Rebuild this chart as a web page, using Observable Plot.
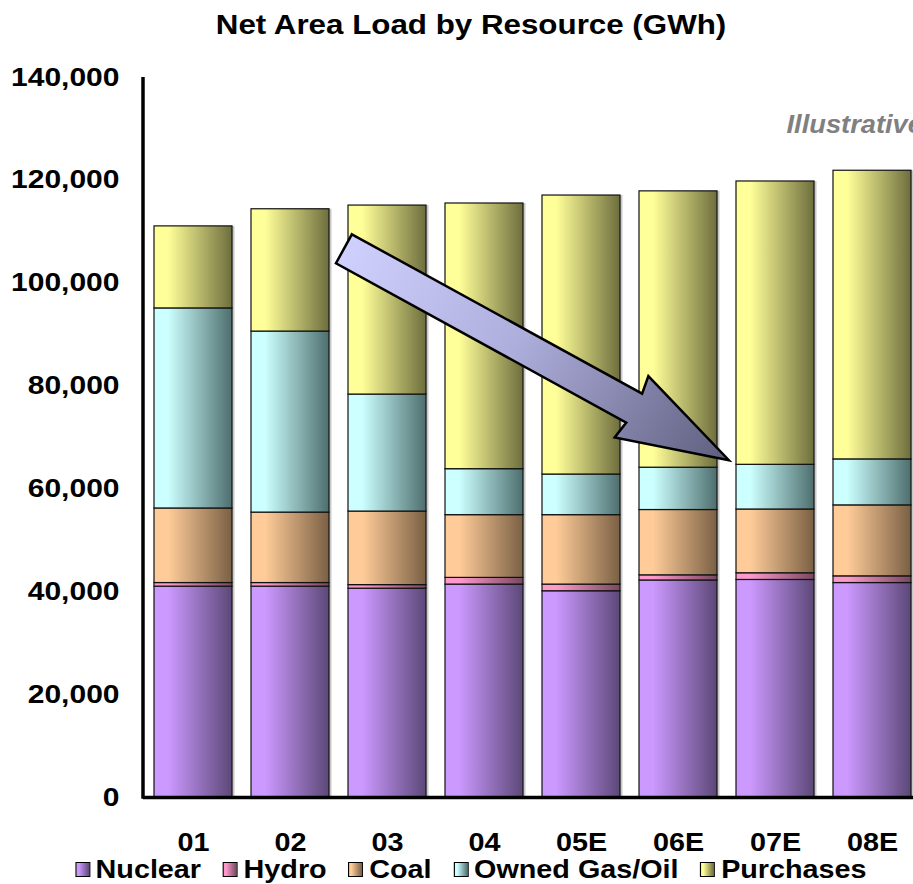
<!DOCTYPE html>
<html>
<head>
<meta charset="utf-8">
<script src="https://cdn.jsdelivr.net/npm/d3@7"></script>
<script src="https://cdn.jsdelivr.net/npm/@observablehq/plot@0.6"></script>
<style>
  html, body { margin: 0; padding: 0; overflow: hidden; background: #fff; }
  #wrap { position: relative; width: 913px; height: 884px; overflow: hidden; font-family: "Liberation Sans", Arial, sans-serif; }
  #chart { position: absolute; left: 0; top: 0; }
  #chart svg text { font-family: "Liberation Sans", Arial, sans-serif; font-weight: bold; font-size: 25px; fill: #000; }
  #title { position: absolute; left: 0; top: 12px; width: 942px; text-align: center; line-height: 1; }
  #title span { display: inline-block; font-size: 27px; font-weight: bold; transform: scaleX(1.16); transform-origin: center; white-space: nowrap; }
  #legend { position: absolute; left: 0; top: 857px; width: 942px; text-align: center; line-height: 1; }
  #legend .inner { display: inline-flex; align-items: center; transform: scaleX(1.15); transform-origin: center; white-space: nowrap; font-size: 25px; font-weight: bold; }
  #legend .item { display: inline-flex; align-items: center; margin: 0 9.5px; }
  #legend .sw { width: 13px; height: 15px; border: 1.5px solid #000; margin-right: 5px; box-sizing: border-box; }
</style>
</head>
<body>
<div id="wrap">
  <div id="chart"></div>
  <div id="title"><span>Net Area Load by Resource (GWh)</span></div>
  <div id="legend"><div class="inner"></div></div>
</div>
<script>
// ---- data ----
const categories = ["01", "02", "03", "04", "05E", "06E", "07E", "08E"];
const seriesNames = ["Nuclear", "Hydro", "Coal", "Owned Gas/Oil", "Purchases"];
const nuclear   = [41000, 41000, 40600, 41400, 40100, 42200, 42300, 41700];
const hydro     = [700, 700, 700, 1300, 1300, 1000, 1300, 1300];
const coal      = [14500, 13700, 14300, 12200, 13500, 12700, 12400, 13800];
const ownedGas  = [38900, 35200, 22750, 8940, 7900, 8230, 8690, 8940];
const purchases = [15950, 23780, 36750, 51660, 54250, 53730, 55090, 56130];
const yTicks = [0, 20000, 40000, 60000, 80000, 100000, 120000, 140000];
const noteText = "Illustrative";
// arrow annotation: [band position (0 = first category), value]
const arrowFrom = [1.556, 106600];
const arrowTo   = [5.524, 65500];

// ---- styles ----
const lightColors = ["#cc99ff", "#ff99cc", "#ffcc99", "#ccffff", "#ffff99"];
const darkColors  = ["#5c4878", "#784860", "#7a6044", "#4e6e6e", "#6e6e3e"];

const seriesValues = [nuclear, hydro, coal, ownedGas, purchases];
const rows = categories.flatMap((c, i) =>
  seriesNames.map((s, j) => ({category: c, series: s, value: seriesValues[j][i]})));
const totals = categories.map((c, i) => ({category: c, total: d3.sum(seriesValues, v => v[i])}));

const plot = Plot.plot({
  width: 913,
  height: 884,
  marginTop: 77,
  marginBottom: 87,
  marginLeft: 143,
  marginRight: 0,
  x: {domain: categories, range: [143, 921], paddingInner: 0.2, paddingOuter: 0.09, label: null},
  y: {domain: [0, 140000], range: [797, 77], label: null},
  color: {domain: seriesNames, range: seriesNames.map((_, j) => `url(#grad${j})`)},
  marks: [
    Plot.barY(totals, {x: "category", y: "total", fill: "#c8c8c8", dx: 2.5}),
    Plot.barY(rows, {x: "category", y: "value", fill: "series", stroke: "#111", strokeWidth: 1.2}),
    Plot.ruleY([0], {stroke: "#000", strokeWidth: 3.5}),
    Plot.axisX({tickSize: 0, tickPadding: 36, label: null}),
    Plot.axisY({ticks: yTicks, tickFormat: d3.format(","), tickSize: 0, tickPadding: 24, label: null}),
    Plot.text([noteText], {frameAnchor: "top-left", text: d => d, dx: 643, dy: 55, textAnchor: "start", lineAnchor: "bottom", fill: "#808080", fontStyle: "italic", fontSize: 26})
  ]
});
document.getElementById("chart").appendChild(plot);

const svg = d3.select(plot);
svg.style("overflow", "hidden");
const defs = svg.insert("defs", ":first-child");
lightColors.forEach((c, j) => {
  const g = defs.append("linearGradient").attr("id", `grad${j}`).attr("x1", 0).attr("y1", 0).attr("x2", 1).attr("y2", 0);
  g.append("stop").attr("offset", "0%").attr("stop-color", c);
  g.append("stop").attr("offset", "18%").attr("stop-color", c);
  g.append("stop").attr("offset", "100%").attr("stop-color", darkColors[j]);
});

// stretch text horizontally (reference font is wide)
svg.selectAll("text").each(function() {
  const isNote = this.textContent === noteText;
  if (isNote) { this.style.fontSize = "26px"; this.style.fill = "#808080"; }
  const isY = /^[\d,]+$/.test(this.textContent) && this.textContent.length > 2 || this.textContent === "0";
  const s = isNote ? 1.05 : (isY ? 1.2 : 1.15);
  const t = this.getAttribute("transform");
  if (t) this.setAttribute("transform", t + ` scale(${s},1)`);
  else {
    const x = +(this.getAttribute("x") || 0);
    this.setAttribute("x", 0);
    this.setAttribute("transform", `translate(${x},0) scale(${s},1)`);
  }
});

// y axis line
const ys = plot.scale("y");
const xs = plot.scale("x");
svg.append("line")
  .attr("x1", 143).attr("x2", 143)
  .attr("y1", ys.apply(140000)).attr("y2", ys.apply(0) + 1.75)
  .attr("stroke", "#000").attr("stroke-width", 3.5);

// block arrow
const step = xs.apply(categories[1]) - xs.apply(categories[0]);
const bw = xs.bandwidth != null ? xs.bandwidth : step * 0.8;
const px = i => xs.apply(categories[0]) + bw / 2 + i * step;
const x0 = px(arrowFrom[0]), y0 = ys.apply(arrowFrom[1]);
const x1 = px(arrowTo[0]), y1 = ys.apply(arrowTo[1]);
const dxA = x1 - x0, dyA = y1 - y0, L = Math.hypot(dxA, dyA);
const ux = dxA / L, uy = dyA / L, nx = -uy, ny = ux;
const sw = 16.5, hw = 35, hl = 111, jl = 108;
const P = (u, v) => [x0 + ux * u + nx * v, y0 + uy * u + ny * v];
const pts = [P(0, -sw), P(L - jl, -sw), P(L - hl, -hw), P(L, 0), P(L - hl, hw), P(L - jl, sw), P(0, sw)];
const ag = defs.append("linearGradient").attr("id", "arrowGrad").attr("gradientUnits", "userSpaceOnUse")
  .attr("x1", x0).attr("y1", y0).attr("x2", x1).attr("y2", y1);
ag.append("stop").attr("offset", "0%").attr("stop-color", "#d0d0ff");
ag.append("stop").attr("offset", "45%").attr("stop-color", "#aeaedc");
ag.append("stop").attr("offset", "100%").attr("stop-color", "#5e5e7e");
svg.append("polygon")
  .attr("points", pts.map(p => p.join(",")).join(" "))
  .attr("fill", "url(#arrowGrad)")
  .attr("stroke", "#000").attr("stroke-width", 2.5).attr("stroke-linejoin", "miter");

// legend
const inner = d3.select("#legend .inner");
seriesNames.forEach((s, j) => {
  const it = inner.append("span").attr("class", "item");
  it.append("span").attr("class", "sw")
    .style("background", `linear-gradient(to right, ${lightColors[j]} 0%, ${lightColors[j]} 18%, ${darkColors[j]} 100%)`);
  it.append("span").text(s);
});
</script>
</body>
</html>
